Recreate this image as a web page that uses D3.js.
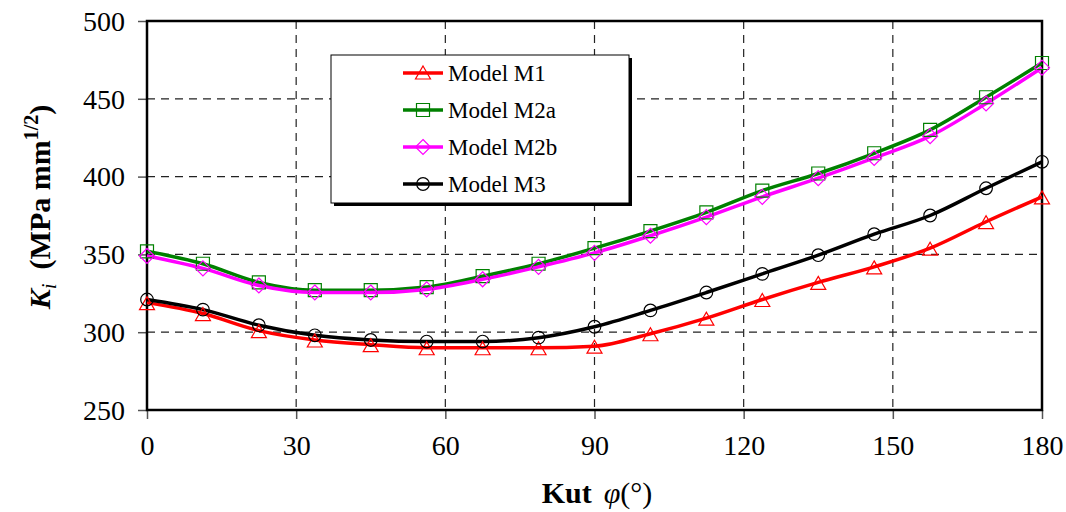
<!DOCTYPE html>
<html><head><meta charset="utf-8">
<script src="https://cdn.jsdelivr.net/npm/d3@7"></script>
<style>body{margin:0;background:#fff}svg{display:block}</style>
</head><body>
<svg id="c" width="1066" height="512"></svg>
<script>
const angles = [0, 11.25, 22.5, 33.75, 45, 56.25, 67.5, 78.75, 90, 101.25, 112.5, 123.75, 135, 146.25, 157.5, 168.75, 180];
const m1  = [319, 312, 301, 295, 292, 290, 290, 290, 291, 299, 309, 321, 332, 342, 354, 371, 387];
const m2a = [352, 344, 332, 327, 327, 329, 336, 344, 354, 365, 377, 391, 402, 415, 430, 451, 473];
const m2b = [349, 341, 330, 325.5, 325.5, 327.5, 334, 342, 351, 362, 374, 387, 399, 412, 426, 447, 470];
const m3  = [321, 314.5, 304.5, 298, 295, 294, 294, 296.5, 303.5, 314, 325.5, 337.5, 349.5, 363, 375, 392.5, 409.5];
const xTicks = [0, 30, 60, 90, 120, 150, 180];
const yTicks = [250, 300, 350, 400, 450, 500];
const seriesNames = ["Model M1", "Model M2a", "Model M2b", "Model M3"];

const series = [
  {name: seriesNames[0], vals: m1, color: "#ff0000", marker: "tri"},
  {name: seriesNames[1], vals: m2a, color: "#008000", marker: "sq"},
  {name: seriesNames[2], vals: m2b, color: "#ff00ff", marker: "dia"},
  {name: seriesNames[3], vals: m3, color: "#000000", marker: "circ"}
];

const svg = d3.select("#c");
const x = d3.scaleLinear().domain([0, 180]).range([147, 1042]);
const y = d3.scaleLinear().domain([250, 500]).range([410, 21]);
const font = "'Liberation Serif','Times New Roman',serif";

// grid
svg.append("g").selectAll("line").data(xTicks.slice(1, -1)).join("line")
  .attr("x1", d => x(d)).attr("x2", d => x(d)).attr("y1", y(500)).attr("y2", y(250))
  .attr("stroke", "#222").attr("stroke-width", 1.2).attr("stroke-dasharray", "8,6");
svg.append("g").selectAll("line").data(yTicks.slice(1, -1)).join("line")
  .attr("y1", d => y(d)).attr("y2", d => y(d)).attr("x1", x(0)).attr("x2", x(180))
  .attr("stroke", "#222").attr("stroke-width", 1.2).attr("stroke-dasharray", "8,6");

// axes
const xAxis = svg.append("g").attr("transform", `translate(0,${y(250)})`)
  .call(d3.axisBottom(x).tickValues(xTicks).tickSize(9).tickPadding(16).tickFormat(d3.format("d")));
const yAxis = svg.append("g").attr("transform", `translate(${x(0)},0)`)
  .call(d3.axisLeft(y).tickValues(yTicks).tickSize(9).tickPadding(13).tickFormat(d3.format("d")));
[xAxis, yAxis].forEach(a => {
  a.select(".domain").remove();
  a.selectAll(".tick line").attr("stroke", "#555").attr("stroke-width", 1.5);
  a.selectAll("text").attr("font-family", font).attr("font-size", 28).attr("fill", "#000");
});
yAxis.selectAll("text").attr("dy", "0.33em");

// frame
svg.append("rect").attr("x", x(0)).attr("y", y(500)).attr("width", x(180) - x(0)).attr("height", y(250) - y(500))
  .attr("fill", "none").attr("stroke", "#000").attr("stroke-width", 2.5);

// lines
const line = d3.line().x((d, i) => x(angles[i])).y(d => y(d)).curve(d3.curveMonotoneX);
series.forEach(s => {
  svg.append("path").datum(s.vals).attr("d", line).attr("fill", "none")
    .attr("stroke", s.color).attr("stroke-width", 3.5).attr("stroke-linejoin", "round");
});

function markerPath(type) {
  if (type === "tri") return "M0,-8 L7.5,5 L-7.5,5 Z";
  if (type === "sq") return "M-6.5,-6.5 H6.5 V6.5 H-6.5 Z";
  if (type === "dia") return "M0,-7.5 L7.5,0 L0,7.5 L-7.5,0 Z";
  return null;
}
function drawMarker(g, type, color, cx, cy) {
  if (type === "circ") {
    g.append("circle").attr("cx", cx).attr("cy", cy).attr("r", 6.3)
      .attr("fill", "none").attr("stroke", color).attr("stroke-width", 1.2);
  } else {
    g.append("path").attr("d", markerPath(type)).attr("transform", `translate(${cx},${cy})`)
      .attr("fill", "none").attr("stroke", color).attr("stroke-width", 1.2);
  }
}
series.forEach(s => {
  const g = svg.append("g");
  s.vals.forEach((v, i) => drawMarker(g, s.marker, s.color, x(angles[i]), y(v) + (s.marker === "tri" ? 2 : 0)));
});

// legend
const lg = svg.append("g");
lg.append("rect").attr("x", 334).attr("y", 58).attr("width", 298).attr("height", 148).attr("fill", "#000");
lg.append("rect").attr("x", 331).attr("y", 55).attr("width", 298).attr("height", 148)
  .attr("fill", "#fff").attr("stroke", "#000").attr("stroke-width", 1);
const rowsY = [73, 110, 147, 184];
series.forEach((s, i) => {
  const yy = rowsY[i];
  lg.append("line").attr("x1", 403).attr("x2", 443).attr("y1", yy).attr("y2", yy)
    .attr("stroke", s.color).attr("stroke-width", 3.5);
  drawMarker(lg, s.marker, s.color, 423, yy + (s.marker === "tri" ? 1 : 0));
  lg.append("text").attr("x", 448).attr("y", yy).attr("dy", "0.33em")
    .attr("font-family", font).attr("font-size", 23).text(s.name);
});

// axis titles
const xt = svg.append("text").attr("x", 597).attr("y", 503).attr("text-anchor", "middle")
  .attr("font-family", font).attr("font-size", 30);
xt.append("tspan").attr("font-weight", "bold").text("Kut");
xt.append("tspan").attr("font-style", "italic").attr("dx", 12).text("φ");
xt.append("tspan").text("(°)");

const yt = svg.append("text").attr("transform", "translate(50,207) rotate(-90)").attr("text-anchor", "middle")
  .attr("font-family", font).attr("font-size", 30).attr("font-weight", "bold");
yt.append("tspan").attr("font-style", "italic").text("K");
yt.append("tspan").attr("font-style", "italic").attr("font-weight", "normal").attr("font-size", 21).attr("dy", 6).text("i");
yt.append("tspan").attr("dy", -6).attr("dx", 14).text("(MPa mm");
yt.append("tspan").attr("font-size", 20).attr("dy", -12).text("1/2");
yt.append("tspan").attr("dy", 12).text(")");
</script>
</body></html>
